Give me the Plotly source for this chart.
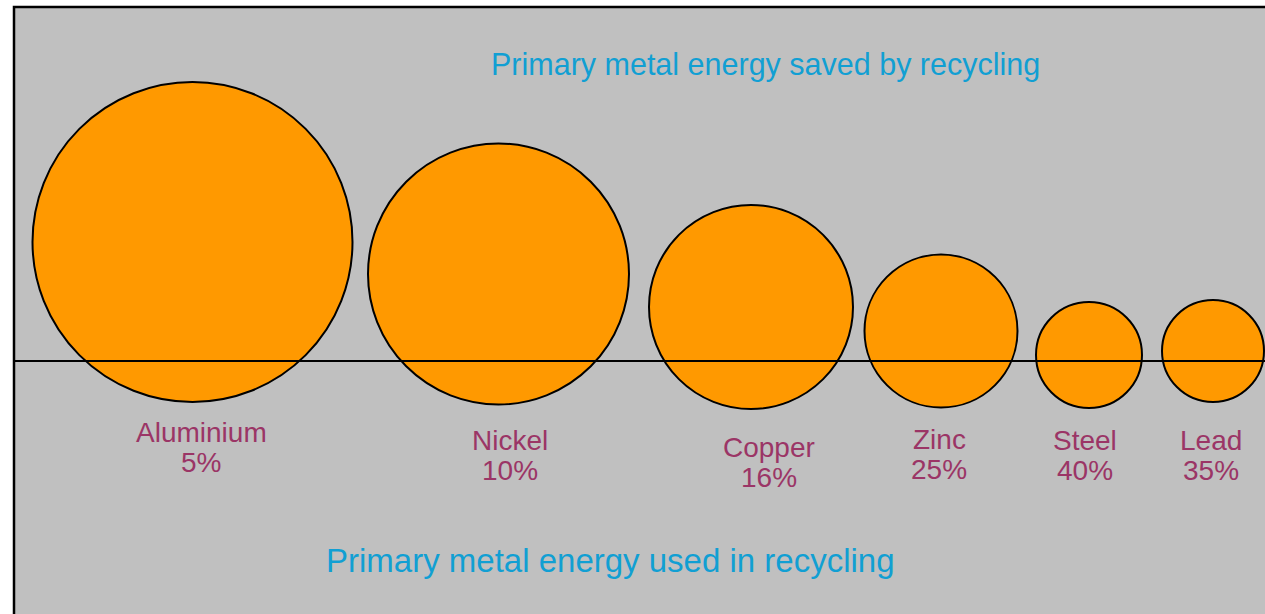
import plotly.graph_objects as go

# ---- data ----
metals = ["Aluminium", "Nickel", "Copper", "Zinc", "Steel", "Lead"]
energy_used_pct = [5, 10, 16, 25, 40, 35]          # % of primary energy used in recycling
bubble_size = [320, 261, 204, 153, 106, 102]         # relative bubble size (diameter, px)

# ---- layout positions (pixel-like data units) ----
bubble_x = [192.5, 498.5, 751, 941, 1089, 1213]
bubble_y = [242, 274, 307, 331, 355, 351]
label_x = [201, 510, 769, 939, 1085, 1211]
label_base = [442, 450, 457, 449, 450, 450]
line_gap = 30.5
baseline_y = 361

W, H = 1265, 614
label_font = 28
label_color = "#9b3566"
title_color = "#119fd3"
FONT = "Liberation Sans, Arial, sans-serif"

fig = go.Figure()

fig.add_trace(go.Scatter(
    x=bubble_x, y=bubble_y, mode="markers",
    marker=dict(size=bubble_size, color="#ff9900",
                line=dict(color="black", width=2), opacity=1),
    hoverinfo="text", text=[f"{m}: {p}%" for m, p in zip(metals, energy_used_pct)],
    showlegend=False,
))

annotations = []
for m, p, lx, lb in zip(metals, energy_used_pct, label_x, label_base):
    for i, t in enumerate([m, f"{p}%"]):
        annotations.append(dict(
            x=lx, y=lb + i * line_gap - 0.35 * label_font, xref="x", yref="y",
            text=t, showarrow=False, xanchor="center", yanchor="middle",
            font=dict(family=FONT, size=label_font, color=label_color)))

annotations.append(dict(
    x=765, y=75 - 0.35 * 30.5, xref="x", yref="y",
    text="Primary metal energy saved by recycling", showarrow=False,
    xanchor="center", yanchor="middle",
    font=dict(family=FONT, size=30.5, color=title_color)))
annotations.append(dict(
    x=610, y=572 - 0.35 * 33, xref="x", yref="y",
    text="Primary metal energy used in recycling", showarrow=False,
    xanchor="center", yanchor="middle",
    font=dict(family=FONT, size=33, color=title_color)))

shapes = [
    dict(type="rect", xref="x", yref="y", x0=14, y0=7, x1=W + 5, y1=H + 5,
         fillcolor="#c0c0c0", line=dict(color="black", width=2.5), layer="below"),
    dict(type="line", xref="x", yref="y", x0=14, x1=W, y0=baseline_y, y1=baseline_y,
         line=dict(color="black", width=2), layer="above"),
]

fig.update_layout(
    width=W, height=H,
    margin=dict(l=0, r=0, t=0, b=0),
    paper_bgcolor="white", plot_bgcolor="white",
    xaxis=dict(range=[0, W], visible=False, fixedrange=True),
    yaxis=dict(range=[H, 0], visible=False, fixedrange=True),
    annotations=annotations, shapes=shapes,
    showlegend=False,
)

fig.write_html("out.html", config={"displayModeBar": False},
               post_script="document.body.style.margin='0px';document.body.style.overflow='hidden';")
